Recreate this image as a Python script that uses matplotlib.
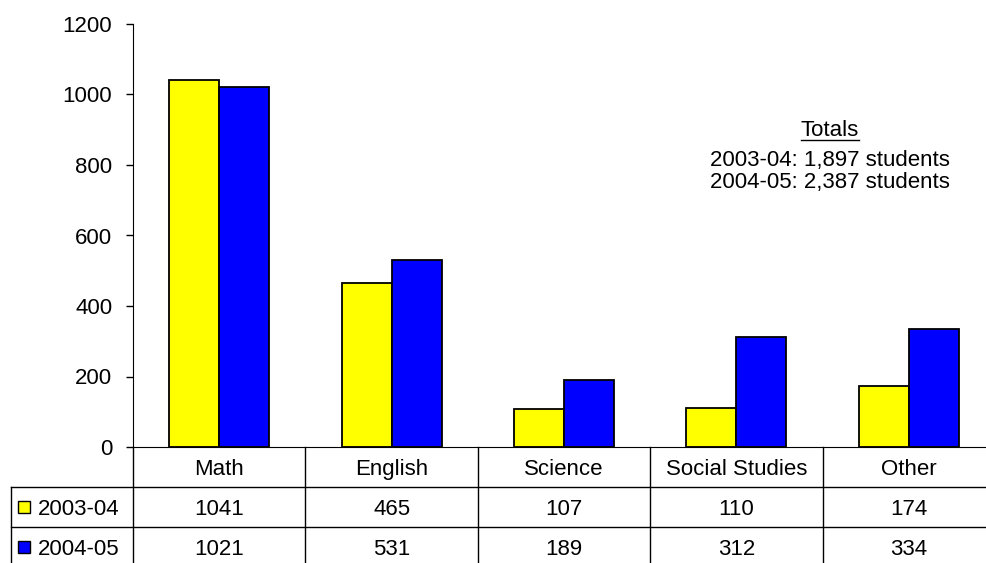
import numpy as np
import matplotlib
matplotlib.use("Agg")
import matplotlib.pyplot as plt
from matplotlib.transforms import blended_transform_factory
from matplotlib.patches import Rectangle

# Données
categories = ["Math", "English", "Science", "Social Studies", "Other"]
series_names = ["2003-04", "2004-05"]
values_0304 = [1041, 465, 107, 110, 174]
values_0405 = [1021, 531, 189, 312, 334]
colors = ["#FFFF00", "#0000FF"]
totals_lines = ["2003-04: 1,897 students", "2004-05: 2,387 students"]

plt.rcParams["font.family"] = ["Liberation Sans", "DejaVu Sans"]
FS = 16

W, H = 986, 563
fig = plt.figure(figsize=(W / 100, H / 100), dpi=100)
# position de l'axe en pixels
ax_l, ax_r, ax_t, ax_b = 133, 995, 24, 447
ax = fig.add_axes([ax_l / W, (H - ax_b) / H, (ax_r - ax_l) / W, (ax_b - ax_t) / H])

x = np.arange(len(categories))
width = 0.29
ax.bar(x - width / 2, values_0304, width, color=colors[0], edgecolor="black", linewidth=1.3)
ax.bar(x + width / 2, values_0405, width, color=colors[1], edgecolor="black", linewidth=1.3)

ax.set_xlim(-0.5, len(categories) - 0.5)
ax.set_ylim(0, 1200)
ax.set_yticks(range(0, 1201, 200))
ax.tick_params(axis="y", direction="out", length=5, width=1, labelsize=FS, pad=10)
ax.set_xticks([])
for s in ["top", "right"]:
    ax.spines[s].set_visible(False)

# Tableau de données sous le graphique
tr = blended_transform_factory(ax.transData, ax.transAxes)
ax_h = ax_b - ax_t
def yax(py):
    return (ax_b - py) / ax_h

label_left = -0.5 - (ax_l - 11) / ((ax_r - ax_l) / len(categories))
row_lines = [487, 527]
bottom = 600
# lignes verticales
for b in np.arange(0.5, len(categories) - 0.5 + 1, 1.0):
    ax.plot([b, b], [0, yax(bottom)], transform=tr, color="black", lw=1, clip_on=False)
ax.plot([-0.5, -0.5], [0, yax(bottom)], transform=tr, color="black", lw=1, clip_on=False)
ax.plot([label_left, label_left], [yax(row_lines[0]), yax(bottom)], transform=tr,
        color="black", lw=1, clip_on=False)
for py in row_lines:
    ax.plot([label_left, len(categories)], [yax(py), yax(py)], transform=tr,
            color="black", lw=1, clip_on=False)

for i, c in enumerate(categories):
    ax.text(i, yax(467), c, transform=tr, ha="center", va="center_baseline", fontsize=FS)
    ax.text(i, yax(507), str(values_0304[i]), transform=tr, ha="center", va="center_baseline", fontsize=FS)
    ax.text(i, yax(547), str(values_0405[i]), transform=tr, ha="center", va="center_baseline", fontsize=FS)

# légende dans le tableau
for j, (name, py) in enumerate(zip(series_names, [507, 547])):
    fig.patches.append(Rectangle((18 / W, (H - py - 6) / H), 12 / W, 12 / H,
                                 transform=fig.transFigure, facecolor=colors[j],
                                 edgecolor="black", lw=1))
    fig.text(38 / W, (H - py) / H, name, ha="left", va="center_baseline", fontsize=FS)

# Totaux
cx = 830
t = fig.text(cx / W, (H - 128) / H, "Totals", ha="center", va="center_baseline", fontsize=FS)
fig.text(cx / W, (H - 158) / H, totals_lines[0], ha="center", va="center_baseline", fontsize=FS)
fig.text(cx / W, (H - 180) / H, totals_lines[1], ha="center", va="center_baseline", fontsize=FS)
fig.canvas.draw()
bb = t.get_window_extent()
fig.add_artist(plt.Line2D([bb.x0 / W, bb.x1 / W], [(bb.y0 + 1) / H, (bb.y0 + 1) / H],
                          color="black", lw=1, transform=fig.transFigure))

fig.savefig("out.png", dpi=100)
